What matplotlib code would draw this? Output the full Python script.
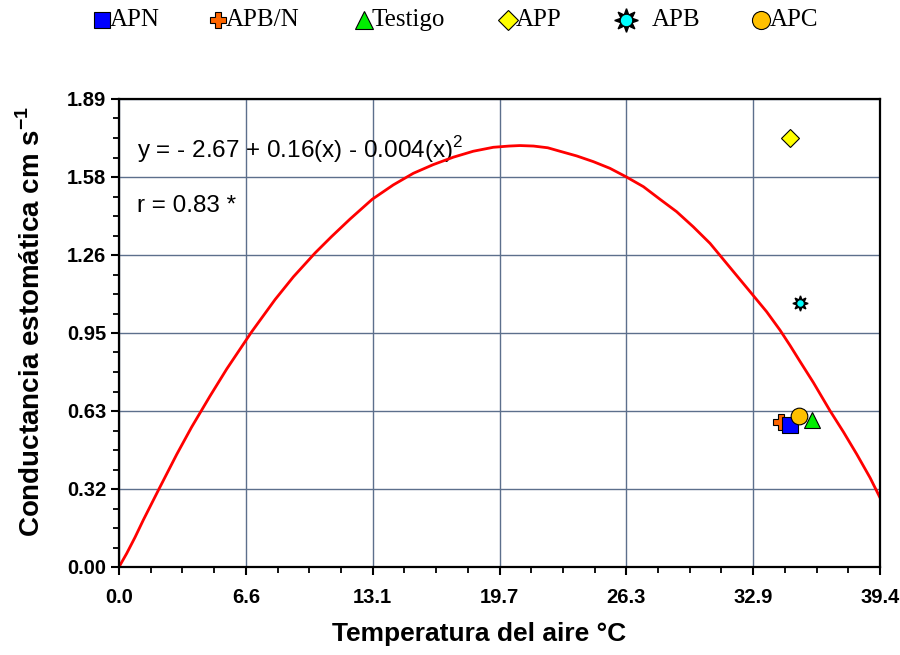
import matplotlib
matplotlib.use("Agg")
import matplotlib.pyplot as plt
from matplotlib.lines import Line2D
from matplotlib.ticker import FixedLocator, MultipleLocator

# ---- data ----
curve_x = [0.0, 0.4, 0.83, 1.26, 2.07, 2.99, 3.76, 4.71, 5.58, 6.87, 8.08, 9.03,
           10.15, 11.0, 11.96, 13.11, 14.2, 15.24, 16.27, 17.31, 18.34, 19.38,
           20.2, 20.76, 21.46, 22.2, 22.83, 23.7, 24.56, 25.42, 26.25, 27.15,
           28.01, 28.87, 29.73, 30.6, 31.81, 32.81, 33.53, 34.22, 34.74, 35.26,
           35.95, 36.82, 37.51, 38.2, 38.89, 39.4]
curve_y = [0.0, 0.055, 0.12, 0.19, 0.315, 0.455, 0.565, 0.69, 0.80, 0.95, 1.08, 1.172,
           1.268, 1.334, 1.405, 1.485, 1.543, 1.59, 1.625, 1.655, 1.679, 1.695,
           1.70, 1.702, 1.70, 1.693, 1.679, 1.66, 1.637, 1.61, 1.576, 1.536,
           1.485, 1.435, 1.374, 1.307, 1.193, 1.099, 1.031, 0.957, 0.895, 0.83,
           0.745, 0.63, 0.545, 0.455, 0.36, 0.28]

series_names = ["APN", "APB/N", "Testigo", "APP", "APB", "APC"]
series_x = [34.75, 34.3, 35.9, 34.75, 35.27, 35.23]
series_y = [0.573, 0.587, 0.594, 1.731, 1.065, 0.61]

x_ticks = [0.0, 6.567, 13.133, 19.7, 26.267, 32.833, 39.4]
x_labels = ["0.0", "6.6", "13.1", "19.7", "26.3", "32.9", "39.4"]
y_ticks = [0.0, 0.315, 0.63, 0.945, 1.26, 1.575, 1.89]
y_labels = ["0.00", "0.32", "0.63", "0.95", "1.26", "1.58", "1.89"]

# ---- styles ----
styles = {
    "APN": dict(marker="s", color="#0000ff", ms=12),
    "APB/N": dict(marker="P", color="#ff6600", ms=12),
    "Testigo": dict(marker="^", color="#00ee00", ms=12),
    "APP": dict(marker="D", color="#ffff00", ms=9),
    "APB": dict(marker="o", color="#00ffff", ms=5.5),
    "APC": dict(marker="o", color="#ffc000", ms=12),
}
zorders = {"APB/N": 5, "APN": 6, "Testigo": 7, "APC": 8, "APP": 6, "APB": 7}

fig = plt.figure(figsize=(9, 6.55), dpi=100)
ax = fig.add_axes([119 / 900, 1 - 567 / 655, 761 / 900, 468 / 655])

ax.plot(curve_x, curve_y, color="#ff0000", lw=2.0, zorder=4,
        solid_joinstyle="round")

for name, x, y in zip(series_names, series_x, series_y):
    st = styles[name]
    if name == "APB":
        ax.plot([x], [y], marker=(8, 1, 0), color="black", ms=11, ls="none",
                zorder=zorders[name])
    ax.plot([x], [y], marker=st["marker"], color=st["color"], ms=st["ms"],
            mec="black", mew=0.8, ls="none", zorder=zorders[name] + 0.5)

ax.set_xlim(0, 39.4)
ax.set_ylim(0, 1.89)
ax.xaxis.set_major_locator(FixedLocator(x_ticks))
ax.yaxis.set_major_locator(FixedLocator(y_ticks))
ax.xaxis.set_minor_locator(MultipleLocator(39.4 / 24))
ax.yaxis.set_minor_locator(MultipleLocator(1.89 / 24))
ax.set_xticklabels(x_labels)
ax.set_yticklabels(y_labels)

ax.grid(True, which="major", color="#5c6f8c", lw=1.0)
ax.set_axisbelow(True)
for s in ax.spines.values():
    s.set_linewidth(1.6)
    s.set_color("black")
    s.set_zorder(10)

ax.tick_params(which="major", direction="out", length=6, width=1.5,
               labelsize=14.5)
ax.tick_params(which="minor", direction="out", length=4.5, width=1.3)
ax.tick_params(axis="x", which="major", pad=9)
ax.tick_params(axis="y", which="major", pad=3)
for lab in ax.get_xticklabels() + ax.get_yticklabels():
    lab.set_fontweight("bold")
    lab.set_family("Liberation Sans")

ax.set_xlabel("Temperatura del aire °C", fontsize=19, fontweight="bold",
              family="Liberation Sans")
ax.set_ylabel("Conductancia estomática cm s$^{\\mathregular{-1}}$", fontsize=20,
              fontweight="bold", family="Liberation Sans")
ax.xaxis.set_label_coords(0.473, -0.118)
ax.yaxis.set_label_coords(-0.096, 0.525)

ax.text(0.024, 0.893, "y = - 2.67 + 0.16(x) - 0.004(x)$^{\\mathregular{2}}$",
        transform=ax.transAxes, fontsize=17.5, family="Liberation Sans",
        va="center", ha="left")
ax.text(0.024, 0.772, "r = 0.83 *", transform=ax.transAxes, fontsize=17.5,
        family="Liberation Sans", va="center", ha="left")

# ---- legend (manual, above the axes) ----
leg_marker_px = [102, 218, 364, 508, 626, 761]
leg_text_px = [110, 226, 372, 516, 652, 770]
ly = 1 - 20 / 655
for name, mx, tx in zip(series_names, leg_marker_px, leg_text_px):
    st = styles[name]
    if name == "APB":
        fig.add_artist(Line2D([mx / 900], [ly], marker=(8, 1, 0), color="black",
                              ms=17, ls="none", transform=fig.transFigure))
        fig.add_artist(Line2D([mx / 900], [ly], marker="o", color=st["color"],
                              ms=9, mec="black", mew=0.8, ls="none",
                              transform=fig.transFigure))
    else:
        ms = {"s": 12, "P": 12, "^": 13, "D": 10, "o": 13}[st["marker"]]
        fig.add_artist(Line2D([mx / 900], [ly], marker=st["marker"],
                              color=st["color"], ms=ms, mec="black", mew=0.8,
                              ls="none", transform=fig.transFigure))
    fig.text(tx / 900, ly, name, fontsize=18, family="Liberation Serif",
             va="center", ha="left")

fig.savefig("out.png", dpi=100)
